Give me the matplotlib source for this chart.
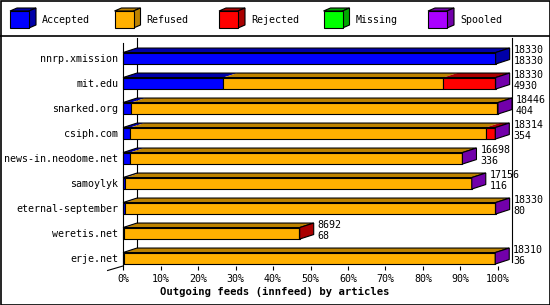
import matplotlib
matplotlib.use("Agg")
import matplotlib.pyplot as plt
from matplotlib.patches import Polygon, Rectangle
import numpy as np

# ---------------- data ----------------
hosts = ["nnrp.xmission", "mit.edu", "snarked.org", "csiph.com",
         "news-in.neodome.net", "samoylyk", "eternal-september",
         "weretis.net", "erje.net"]
totals = [18330, 18330, 18446, 18314, 16698, 17156, 18330, 8692, 18310]
accepted = [18330, 4930, 404, 354, 336, 116, 80, 68, 36]
refused = [0, 10825, 18012, 17486, 16352, 17030, 18240, 8604, 18254]
rejected = [0, 2565, 20, 464, 0, 0, 0, 20, 10]
missing = [0, 0, 0, 0, 0, 0, 0, 0, 0]
spooled = [0, 10, 10, 10, 10, 10, 10, 0, 10]

categories = ["Accepted", "Refused", "Rejected", "Missing", "Spooled"]
front_colors = ["#0000FF", "#FFB000", "#FF0000", "#00FF00", "#AA00FF"]
dark_colors = ["#0000A8", "#BC8200", "#AA0000", "#00A800", "#7200AA"]
xticks = list(range(0, 101, 10))
xticklabels = [f"{t}%" for t in xticks]
xlabel = "Outgoing feeds (innfeed) by articles"

# ---------------- figure ----------------
W, H = 550, 305
fig = plt.figure(figsize=(W / 100, H / 100), dpi=100)
mono = "DejaVu Sans Mono"
fs = 7.2

# pixel geometry of plot region
px_left, px_right = 123, 498
py_top, py_floor = 38, 266
row0, rowstep = 58.3, 25.0
ppx = (px_right - px_left) / 100.0  # pixels per percent

ax = fig.add_axes([px_left / W, (H - py_floor) / H,
                   (px_right - px_left) / W, (py_floor - py_top) / H])
ax.set_xlim(0, 100)
ax.set_ylim((py_floor - row0) / rowstep, (py_top - row0) / rowstep)
for s in ax.spines.values():
    s.set_visible(False)

dx = 14 / ppx          # depth in percent
dy = 4.5 / rowstep     # depth in row units
h = 5.75 / rowstep     # half height of front face
gap = 4 / ppx

ymin_idx = (py_top - row0) / rowstep
yfloor = (py_floor - row0) / rowstep

# frame lines
ax.plot([dx, dx], [ymin_idx, yfloor - dy], color="black", lw=0.8, clip_on=False, zorder=1)
ax.plot([100 + dx, 100 + dx], [ymin_idx, yfloor - dy], color="black", lw=0.8, clip_on=False, zorder=1)
ax.plot([0, 0], [ymin_idx + dy, yfloor], color="black", lw=0.8, clip_on=False, zorder=5)
ax.plot([0, -dx * 1.1], [yfloor, yfloor + dy], color="black", lw=0.8, clip_on=False, zorder=5)

vmax = max(totals)
series = [accepted, refused, rejected, missing, spooled]
for i, host in enumerate(hosts):
    vals = [s[i] for s in series]
    pct = np.array(vals) / vmax * 100
    cum = np.concatenate([[0], np.cumsum(pct)])
    end = cum[-1]
    top_y = i - h
    bot_y = i + h
    # top faces
    for k in range(len(vals)):
        if vals[k] <= 0:
            continue
        x0, x1 = cum[k], cum[k + 1]
        ax.add_patch(Polygon([(x0, top_y), (x1, top_y), (x1 + dx, top_y - dy), (x0 + dx, top_y - dy)],
                             closed=True, facecolor=dark_colors[k], edgecolor="none", zorder=2, clip_on=False))
    ax.add_patch(Polygon([(0, top_y), (end, top_y), (end + dx, top_y - dy), (dx, top_y - dy)],
                         closed=True, facecolor="none", edgecolor="black", lw=0.8, zorder=3, clip_on=False))
    # front faces
    for k in range(len(vals)):
        if vals[k] <= 0:
            continue
        x0, x1 = cum[k], cum[k + 1]
        ax.add_patch(Rectangle((x0, top_y), x1 - x0, 2 * h, facecolor=front_colors[k],
                               edgecolor="black", lw=0.8, zorder=4, clip_on=False))
    # side face (color of last nonzero segment)
    last = max(k for k in range(len(vals)) if vals[k] > 0)
    ax.add_patch(Polygon([(end, top_y), (end + dx, top_y - dy), (end + dx, bot_y - dy), (end, bot_y)],
                         closed=True, facecolor=dark_colors[last], edgecolor="black", lw=0.8,
                         zorder=4, clip_on=False))
    # value labels
    ax.text(end + dx + gap, i - 8.3 / rowstep, f"{totals[i]}", fontsize=fs, family=mono,
            ha="left", va="center", zorder=6, clip_on=False)
    ax.text(end + dx + gap, i + 2.7 / rowstep, f"{accepted[i]}", fontsize=fs, family=mono,
            ha="left", va="center", zorder=6, clip_on=False)

ax.set_yticks(range(len(hosts)))
ax.set_yticklabels(hosts, fontsize=fs, family=mono)
ax.tick_params(axis="y", length=0, pad=3.4)
ax.set_xticks(xticks)
ax.set_xticklabels(xticklabels, fontsize=fs, family=mono)
ax.tick_params(axis="x", length=3, width=0.8, direction="out", pad=2.5)

fig.text(275 / W, (H - 292) / H, xlabel, fontsize=7.6, family=mono, weight="bold",
         ha="center", va="center")

# ---------------- overlay: frame and legend ----------------
ov = fig.add_axes([0, 0, 1, 1], zorder=-1)
ov.set_xlim(0, W)
ov.set_ylim(H, 0)
ov.axis("off")
ov.add_patch(Rectangle((0.5, 0.5), W - 1, H - 1, facecolor="none", edgecolor="black", lw=1.2))
ov.plot([0, W], [35.5, 35.5], color="black", lw=1.2)

leg_x0, leg_step = 10, 104.5
cw, chh, cdx, cdy = 19, 17, 7, 3
for k, name in enumerate(categories):
    x = leg_x0 + k * leg_step
    y = 11
    ov.add_patch(Polygon([(x, y), (x + cw, y), (x + cw + cdx, y - cdy), (x + cdx, y - cdy)],
                         closed=True, facecolor=dark_colors[k], edgecolor="black", lw=0.8))
    ov.add_patch(Polygon([(x + cw, y), (x + cw + cdx, y - cdy), (x + cw + cdx, y + chh - cdy), (x + cw, y + chh)],
                         closed=True, facecolor=dark_colors[k], edgecolor="black", lw=0.8))
    ov.add_patch(Rectangle((x, y), cw, chh, facecolor=front_colors[k], edgecolor="black", lw=0.8))
    ov.text(x + 32, 20, name, fontsize=fs, family=mono, ha="left", va="center")

fig.savefig("out.png", dpi=100)
